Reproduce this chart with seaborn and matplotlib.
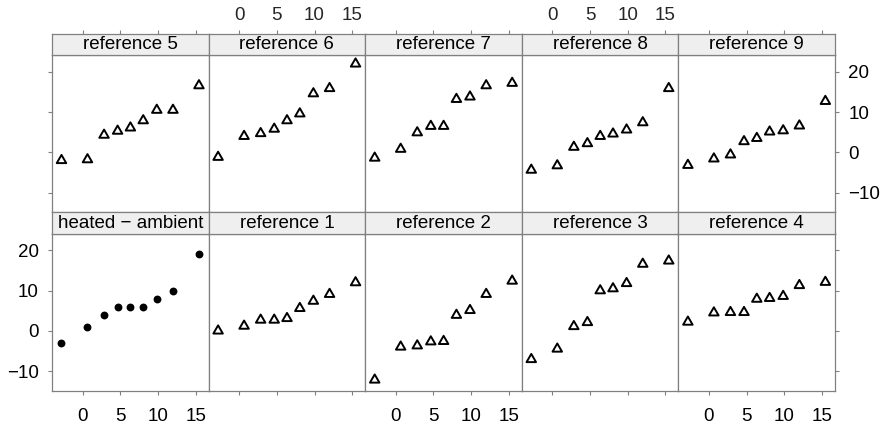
import numpy as np
import pandas as pd
import matplotlib
matplotlib.use("Agg")
import matplotlib.pyplot as plt
import seaborn as sns
from matplotlib.path import Path

sns.set_theme(style="white")
plt.rcParams['font.family'] = ['Liberation Sans', 'DejaVu Sans']

# quantile positions (same in every panel)
qx = [-2.8, 0.65, 2.85, 4.65, 6.35, 8.05, 9.85, 12.0, 15.45]

heated = [-3, 1, 4, 6, 6, 6, 8, 10, 19]
ref1 = [0.0, 1.2, 2.7, 2.7, 3.1, 5.6, 7.4, 9.1, 12.0]
ref2 = [-12.2, -4.0, -3.7, -2.7, -2.6, 3.9, 5.1, 9.1, 12.4]
ref3 = [-7.1, -4.5, 1.1, 2.1, 10.0, 10.5, 11.8, 16.6, 17.4]
ref4 = [2.2, 4.5, 4.6, 4.6, 7.9, 8.1, 8.6, 11.3, 12.1]
ref5 = [-2.0, -1.8, 4.3, 5.3, 6.1, 7.9, 10.5, 10.5, 16.6]
ref6 = [-1.2, 4.0, 4.7, 5.8, 7.9, 9.6, 14.6, 15.9, 22.0]
ref7 = [-1.4, 0.8, 4.9, 6.5, 6.5, 13.2, 13.8, 16.6, 17.2]
ref8 = [-4.4, -3.3, 1.3, 2.2, 4.0, 4.6, 5.6, 7.4, 15.9]
ref9 = [-3.2, -1.6, -0.6, 2.7, 3.5, 5.1, 5.4, 6.6, 12.7]

top_names = ["reference 5", "reference 6", "reference 7", "reference 8", "reference 9"]
bottom_names = ["heated \u2212 ambient", "reference 1", "reference 2", "reference 3", "reference 4"]
values = [ref5, ref6, ref7, ref8, ref9, heated, ref1, ref2, ref3, ref4]

frames = []
for name, vals in zip(top_names + bottom_names, values):
    frames.append(pd.DataFrame({"panel": name, "x": qx, "y": vals}))
df = pd.concat(frames, ignore_index=True)

W, H = 884, 424
fig = plt.figure(figsize=(W / 100, H / 100), dpi=100)

frame_col = "#808080"
strip_col = "#EFEFEF"
fs = 13.5
xlim = (-4.06, 16.73)
ylim = (-14.96, 24.2)
xt = [0, 5, 10, 15]
yt = [-10, 0, 10, 20]

left0, pw = 52.0, 156.6
rows = [(34.0, 55.0, 212.5), (212.5, 233.5, 391.0)]

tri = Path([(0, 1), (-0.866, -0.5), (0.866, -0.5), (0, 1)],
           [Path.MOVETO, Path.LINETO, Path.LINETO, Path.CLOSEPOLY])


def box(x0, y0, x1, y1):
    return [x0 / W, 1 - y1 / H, (x1 - x0) / W, (y1 - y0) / H]


for r, names in enumerate([top_names, bottom_names]):
    s_top, p_top, p_bot = rows[r]
    for c, name in enumerate(names):
        x0 = left0 + c * pw
        ax = fig.add_axes(box(x0, p_top, x0 + pw, p_bot))
        sax = fig.add_axes(box(x0, s_top, x0 + pw, p_top))
        sub = df[df["panel"] == name]
        if name.startswith("heated"):
            sns.scatterplot(data=sub, x="x", y="y", ax=ax, color="black",
                            s=32, linewidth=0, marker="o")
        else:
            sns.scatterplot(data=sub, x="x", y="y", ax=ax, color="black",
                            s=62, linewidth=1.4, marker=tri)
            pts = ax.collections[-1]
            pts.set_facecolor("none")
            pts.set_edgecolor("black")
            pts.set_linewidth(1.4)
        ax.set_xlim(*xlim)
        ax.set_ylim(*ylim)
        ax.set_xlabel("")
        ax.set_ylabel("")
        ax.set_xticks(xt)
        ax.set_yticks(yt)
        for a in (ax, sax):
            for sp in a.spines.values():
                sp.set_color(frame_col)
                sp.set_linewidth(0.9)
        ax.tick_params(which="both", length=2.6, width=0.8, color=frame_col,
                       labelsize=fs, labelcolor="black",
                       bottom=False, top=False, left=False, right=False,
                       labelbottom=False, labeltop=False, labelleft=False, labelright=False)
        if r == 1:
            ax.tick_params(axis="x", bottom=True, labelbottom=(c % 2 == 0), pad=9.5)
        if c == 0:
            ax.tick_params(axis="y", left=True, labelleft=(r == 1), pad=7)
        if c == 4:
            ax.tick_params(axis="y", right=True, labelright=(r == 0), pad=7)

        # strip
        sax.set_facecolor(strip_col)
        sax.set_xlim(*xlim)
        sax.set_ylim(0, 1)
        sax.set_yticks([])
        sax.set_xticks(xt)
        sax.tick_params(axis="x", length=2.6, width=0.8, color=frame_col,
                        labelsize=fs, bottom=False, labelbottom=False,
                        top=(r == 0), labeltop=(r == 0 and c % 2 == 1), pad=4.5)
        sax.text(0.5, 0.48, name, transform=sax.transAxes, ha="center",
                 va="center", fontsize=fs, color="black")

fig.savefig("out.png", dpi=100)
